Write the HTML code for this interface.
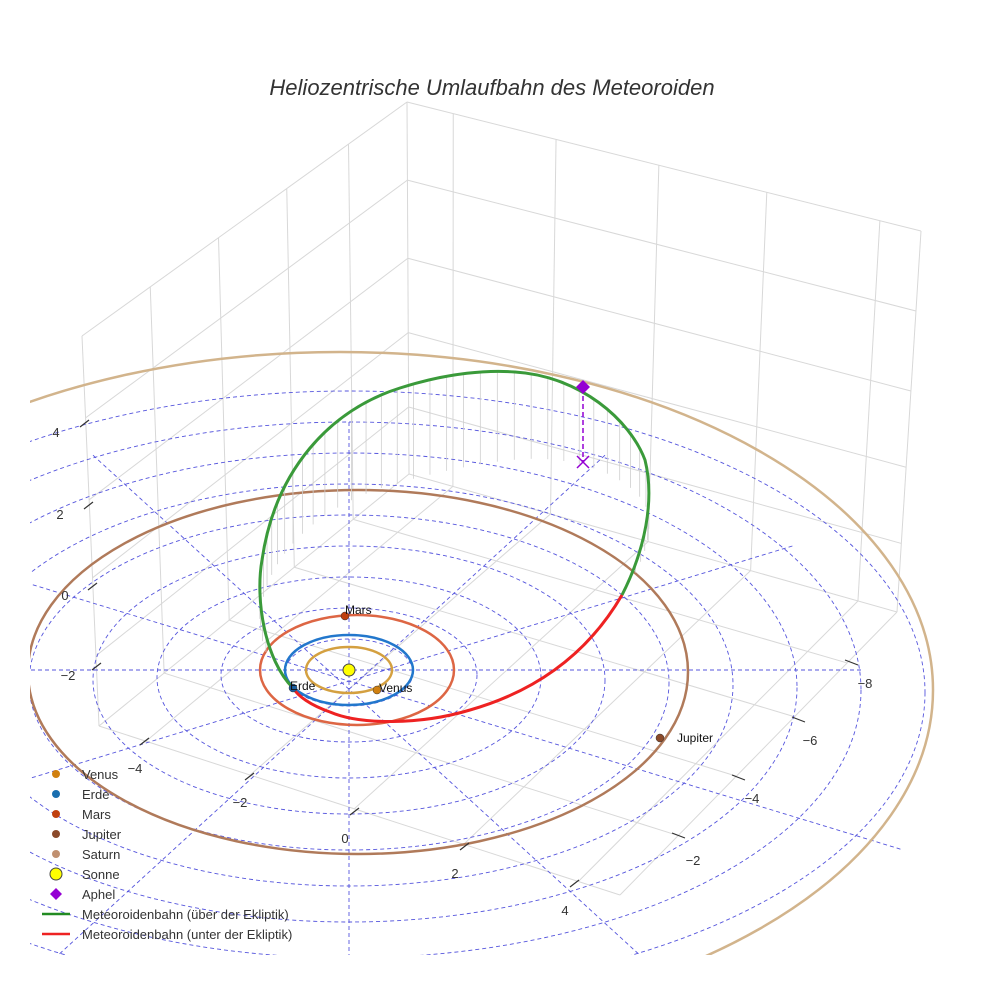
<!DOCTYPE html>
<html><head><meta charset="utf-8"><style>
html,body{margin:0;padding:0;background:#fff}
svg{display:block;font-family:"Liberation Sans",sans-serif}
</style></head><body>
<svg id="s" width="984" height="984" viewBox="0 0 984 984" xmlns="http://www.w3.org/2000/svg">
<defs><clipPath id="c"><rect x="30" y="0" width="954" height="955"/></clipPath></defs>
<text x="492" y="95" text-anchor="middle" font-size="22" font-style="italic" fill="#333">Heliozentrische Umlaufbahn des Meteoroiden</text>
<g id="box" stroke="#d8d8d8" stroke-width="1" fill="none"></g>
<g id="grid" clip-path="url(#c)" stroke="#5555dd" stroke-width="0.9" stroke-dasharray="4,3" fill="none"></g>
<g clip-path="url(#c)" fill="none">
<ellipse cx="340" cy="690" rx="593" ry="338" stroke="#d2b48c" stroke-width="2.5"/>
<ellipse cx="358" cy="672" rx="330" ry="182" stroke="#b07a5a" stroke-width="2.5"/>
</g>
<ellipse cx="357" cy="670" rx="97" ry="55" stroke="#dd6644" stroke-width="2.5" fill="none"/>
<ellipse cx="349" cy="670" rx="64" ry="35" stroke="#2277cc" stroke-width="2.5" fill="none"/>
<ellipse cx="349" cy="670" rx="43" ry="23" stroke="#d4a040" stroke-width="2.5" fill="none"/>
<g id="drops" stroke="#cfcfcf" stroke-width="0.8"></g>
<path id="gp" d="M293,688 C265,660 255,600 262,560 C275,470 330,410 400,388 C450,372 490,370 515,372 C580,376 630,420 645,460 C655,500 645,550 622,595" stroke="#3a9a3a" stroke-width="3" fill="none"/>
<path d="M622,595 C590,650 540,690 470,710 C420,725 360,725 330,712 C310,705 298,696 293,688" stroke="#ee2222" stroke-width="3" fill="none"/>
<line x1="583" y1="388" x2="583" y2="462" stroke="#9400d3" stroke-width="1.5" stroke-dasharray="5,3"/>
<path d="M577,456 L589,468 M589,456 L577,468" stroke="#9400d3" stroke-width="1.5"/>
<path d="M583,380 L590,387 L583,394 L576,387 Z" fill="#9400d3"/>
<circle cx="349" cy="670" r="6" fill="#ffff00" stroke="#444"/>
<circle cx="345" cy="616" r="4" fill="#c0400f" stroke="#333" stroke-width=".5"/>
<circle cx="293" cy="688" r="4" fill="#1a5fa0" stroke="#333" stroke-width=".5"/>
<circle cx="377" cy="690" r="4" fill="#d08010" stroke="#333" stroke-width=".5"/>
<circle cx="660" cy="738" r="4" fill="#8b4a2a" stroke="#333" stroke-width=".5"/>
<g font-size="12" fill="#111">
<text x="345" y="614">Mars</text><text x="290" y="690">Erde</text><text x="379" y="692">Venus</text><text x="677" y="742">Jupiter</text>
</g>
<g font-size="13" fill="#333" text-anchor="middle">
<text x="56" y="437">4</text><text x="60" y="519">2</text><text x="65" y="600">0</text><text x="68" y="680">−2</text>
<text x="135" y="773">−4</text><text x="240" y="807">−2</text><text x="345" y="843">0</text><text x="455" y="878">2</text><text x="565" y="915">4</text>
<text x="693" y="865">−2</text><text x="752" y="803">−4</text><text x="810" y="745">−6</text><text x="865" y="688">−8</text>
</g>
<g stroke="#333" stroke-width="1.2">
<path d="M80,427 l9,-7 M84,509 l9,-7 M88,590 l9,-7 M92,670 l9,-7"/>
<path d="M140,745 l9,-7 M245,780 l9,-7 M350,815 l9,-7 M460,850 l9,-7 M570,887 l9,-7"/>
<path d="M672,833 l13,5 M732,775 l13,5 M792,717 l13,5 M845,660 l13,5"/>
</g>
<g font-size="13" fill="#333">
<circle cx="56" cy="774" r="4" fill="#d08010"/><text x="82" y="779">Venus</text>
<circle cx="56" cy="794" r="4" fill="#1a6fb0"/><text x="82" y="799">Erde</text>
<circle cx="56" cy="814" r="4" fill="#c0400f"/><text x="82" y="819">Mars</text>
<circle cx="56" cy="834" r="4" fill="#8b4a2a"/><text x="82" y="839">Jupiter</text>
<circle cx="56" cy="854" r="4" fill="#c09070"/><text x="82" y="859">Saturn</text>
<circle cx="56" cy="874" r="6" fill="#ffff00" stroke="#444"/><text x="82" y="879">Sonne</text>
<path d="M56,888 L62,894 L56,900 L50,894 Z" fill="#9400d3"/><text x="82" y="899">Aphel</text>
<line x1="42" y1="914" x2="70" y2="914" stroke="#228b22" stroke-width="2.5"/><text x="82" y="919">Meteoroidenbahn (über der Ekliptik)</text>
<line x1="42" y1="934" x2="70" y2="934" stroke="#ee2222" stroke-width="2.5"/><text x="82" y="939">Meteoroidenbahn (unter der Ekliptik)</text>
</g>
</svg>
<script>
var NS="http://www.w3.org/2000/svg";
function el(p,t,a){var e=document.createElementNS(NS,t);for(var k in a)e.setAttribute(k,a[k]);document.getElementById(p).appendChild(e);return e;}
function lerp(a,b,t){return [a[0]+(b[0]-a[0])*t,a[1]+(b[1]-a[1])*t];}
function ln(p,q){el("box","line",{x1:p[0],y1:p[1],x2:q[0],y2:q[1]});}
function quad(A,B,C,D,us,vs){
 us.forEach(function(t){ln(lerp(A,B,t),lerp(D,C,t));});
 vs.forEach(function(t){ln(lerp(A,D,t),lerp(B,C,t));});
}
var zs=[0,.21,.42,.62,.82];
quad([82,336],[407,102],[409,474],[99,726],[0,.21,.42,.63,.82,1],zs);
quad([407,102],[921,231],[897,612],[409,474],[.09,.29,.49,.70,.92,1],zs);
quad([409,474],[897,612],[620,895],[99,726],[0,.09,.29,.49,.70,.92,1],[0,.18,.37,.58,.79,1]);
for(var n=1;n<=9;n++){el("grid","ellipse",{cx:349,cy:670+2.5*n,rx:64*n,ry:33.5*n});}
function P(r,th){var s=Math.sin(th);return [349+64*r*Math.cos(th),670-(s>0?31:36)*r*s];}
for(var a=0;a<180;a+=30){var th=a*Math.PI/180,p=P(8,th),q=P(10,th+Math.PI);el("grid","line",{x1:p[0],y1:p[1],x2:q[0],y2:q[1]});}
var gp=document.getElementById("gp"),L=gp.getTotalLength();
for(var s=60;s<L-20;s+=17){var t=s/L,pt=gp.getPointAtLength(s);
 var h=95*Math.pow(Math.sin(Math.PI*t),1.2);
 el("drops","line",{x1:pt.x,y1:pt.y,x2:pt.x,y2:pt.y+h});}
</script>
</body></html>
